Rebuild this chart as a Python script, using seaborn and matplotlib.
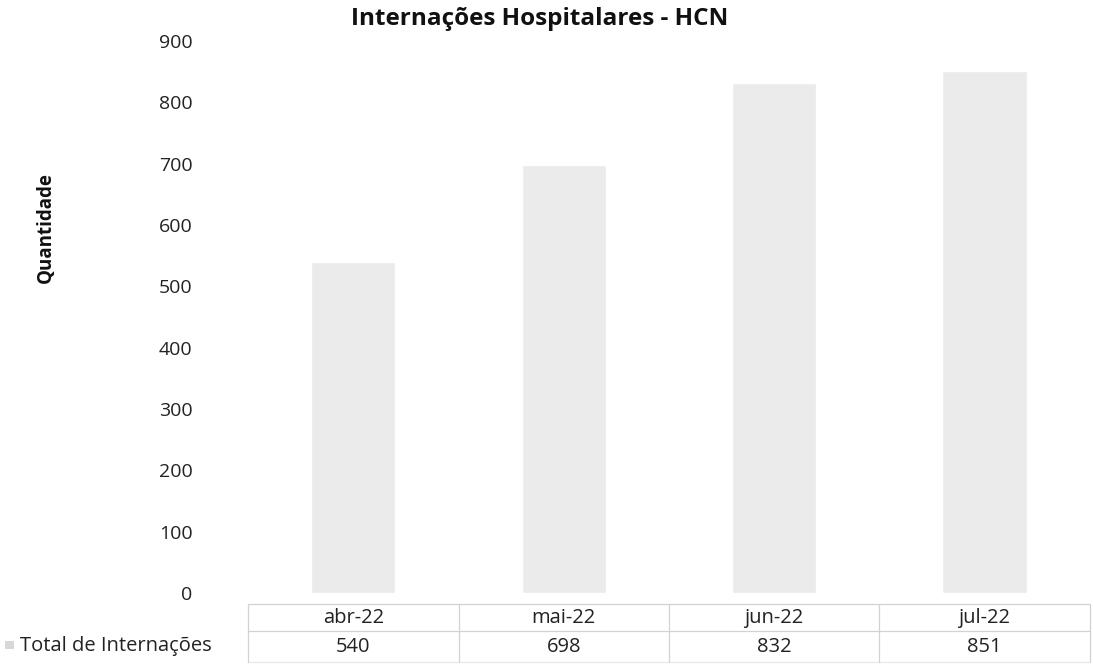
import matplotlib
matplotlib.use("Agg")
import pandas as pd
import seaborn as sns
import matplotlib.pyplot as plt
from matplotlib.patches import Rectangle

# -------------------------------
# Data
# -------------------------------
months = ["abr-22", "mai-22", "jun-22", "jul-22"]
internacoes = [540, 698, 832, 851]
series_name = "Total de Internações"

df = pd.DataFrame({"Mes": months, "Total": internacoes})

# -------------------------------
# Plot
# -------------------------------
sns.set_theme(style="white")
plt.rcParams["font.family"] = ["Open Sans", "DejaVu Sans"]

fig = plt.figure(figsize=(10.93, 6.66), dpi=100)
ax = fig.add_axes([0.227, 0.1096, 0.770, 0.8288])

bar_color = "#ebebeb"
sns.barplot(data=df, x="Mes", y="Total", color=bar_color, width=0.4,
            saturation=1, ax=ax)

ax.set_xlim(-0.5, len(months) - 0.5)
ax.set_ylim(0, 900)
ax.set_yticks(range(0, 901, 100))
ax.tick_params(axis="y", labelsize=14, pad=40, length=0, colors="#222222")
ax.set_xticks([])
ax.set_xlabel("")
ax.set_ylabel("")
for s in ax.spines.values():
    s.set_visible(False)

fig.text(0.494, 0.972, "Internações Hospitalares - HCN", ha="center", va="center",
         fontsize=17.5, fontweight="bold", color="#111111")
fig.text(0.042, 0.658, "Quantidade", rotation=90, ha="center", va="center",
         fontsize=13.5, fontweight="bold", color="#111111")

# -------------------------------
# Data table under the chart
# -------------------------------
tr = ax.get_xaxis_transform()
line_kw = dict(color="#d2d2d2", lw=0.9, clip_on=False)
y_top, y_mid, y_bot = -0.020, -0.068, -0.125
y_head, y_val = -0.045, -0.097

ax.plot([-0.5, 3.5], [y_top, y_top], transform=tr, **line_kw)
ax.plot([-0.5, 3.5], [y_mid, y_mid], transform=tr, **line_kw)
ax.plot([-0.5, 3.5], [y_bot, y_bot], transform=tr, color="#e8e8e8", lw=0.9, clip_on=False)
for i in range(len(months) + 1):
    ax.plot([i - 0.5, i - 0.5], [y_top, y_bot], transform=tr, **line_kw)

for i, (m, v) in enumerate(zip(months, internacoes)):
    ax.text(i, y_head, m, transform=tr, ha="center", va="center",
            fontsize=14.5, color="#222222")
    ax.text(i, y_val, str(v), transform=tr, ha="center", va="center",
            fontsize=14.5, color="#222222")

# row label with legend key
fig.text(0.018, 0.030, series_name, ha="left", va="center", fontsize=14.5,
         color="#222222")
fig.patches.append(Rectangle((0.005, 0.025), 0.008, 0.012, transform=fig.transFigure,
                             facecolor="#d8d8d8", edgecolor="none"))

fig.savefig("out.png", dpi=100)
